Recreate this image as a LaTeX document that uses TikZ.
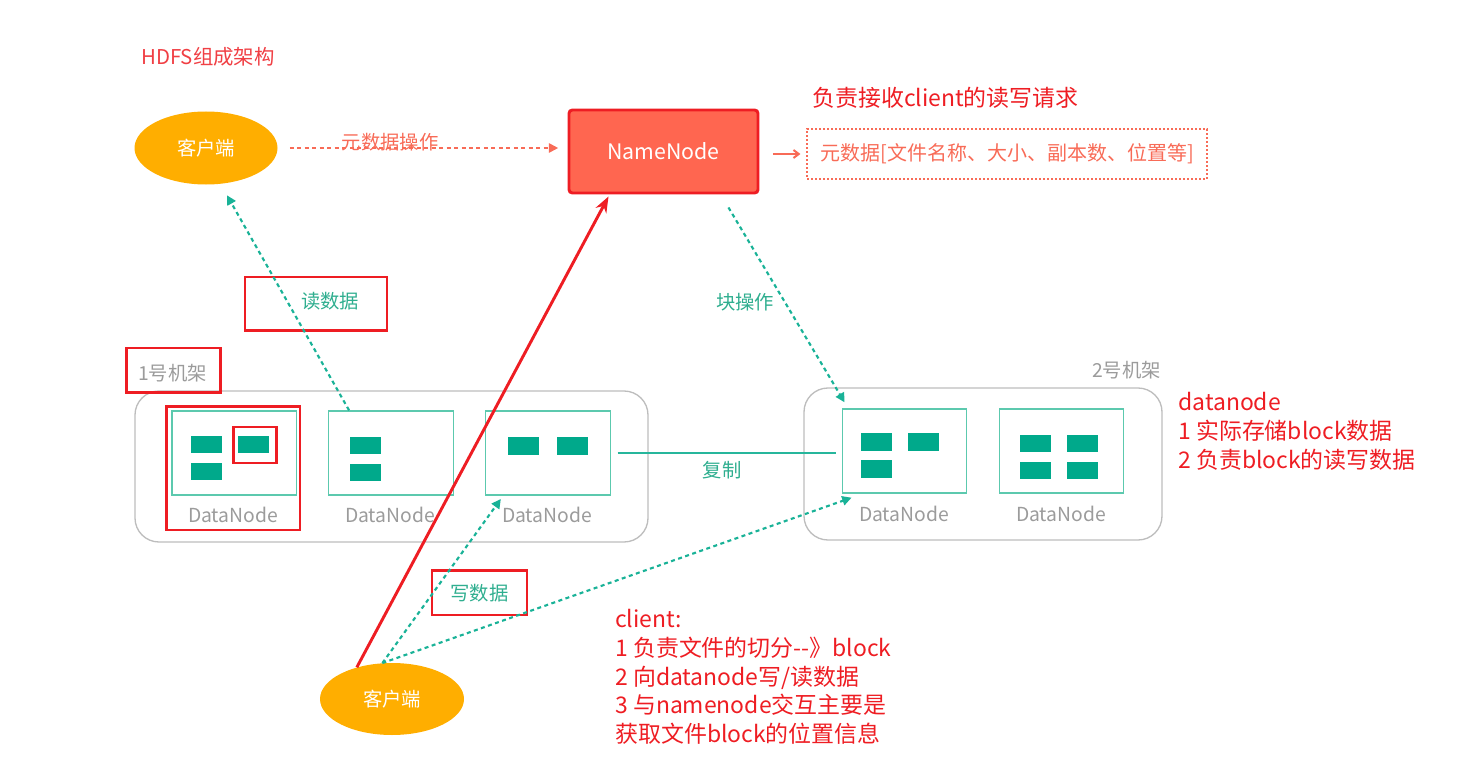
\documentclass[tikz,border=0pt]{standalone}
\usepackage{fontspec}
\setmainfont{Noto Sans CJK SC}
\usetikzlibrary{shapes.geometric,arrows.meta,calc}
\definecolor{cred}{HTML}{EE1D23}
\definecolor{csalmon}{HTML}{F86B57}
\definecolor{cnn}{HTML}{FF6650}
\definecolor{corange}{HTML}{FFAE00}
\definecolor{cgreen}{HTML}{00A98B}
\definecolor{cgreenl}{HTML}{5CC9AE}
\definecolor{cgtext}{HTML}{2FAE8F}
\definecolor{cgray}{HTML}{9B9B9B}
\definecolor{crack}{HTML}{BDBDBD}
\tikzset{
  client/.style={ellipse, fill=corange, minimum width=107.25pt, minimum height=54.75pt, inner sep=0pt, text=white, font=\fontsize{14.5}{16}\selectfont},
  nnbox/.style={rectangle, rounded corners=2.5pt, fill=cnn, draw=cred, line width=2.2pt, minimum width=141.75pt, minimum height=62.25pt, text=white, font=\fontsize{16}{18}\selectfont},
  metabox/.style={rectangle, draw=csalmon, line width=0.8pt, dash pattern=on 1.5pt off 1.5pt, minimum width=300pt, minimum height=37.5pt, text=csalmon, font=\fontsize{15}{17}\selectfont},
  rack/.style={rectangle, rounded corners=18pt, draw=crack, line width=1pt, inner sep=0pt},
  dnbox/.style={rectangle, draw=cgreenl, line width=1pt, minimum width=93.4pt, minimum height=63pt, inner sep=0pt},
  blk/.style={rectangle, fill=cgreen, minimum width=23.25pt, minimum height=13.1pt, inner sep=0pt},
  dnlabel/.style={text=cgray, font=\fontsize{14.5}{16}\selectfont, inner sep=0pt},
  hlbox/.style={rectangle, draw=cred, line width=2pt, inner sep=0pt},
  glabel/.style={text=cgtext, font=\fontsize{14.5}{16}\selectfont, inner sep=0pt},
  redtext/.style={text=cred, font=\fontsize{17.2}{21.9}\selectfont, align=left, inner sep=0pt},
  gdot/.style={draw=cgreen!90!white, line width=1.6pt, dash pattern=on 3pt off 2.6pt, -{Triangle[width=7pt,length=7pt]}},
}
\begin{document}
\begin{tikzpicture}[x=0.75pt,y=-0.75pt]
\useasboundingbox (0,0) rectangle (1468,767);
% title
\node[anchor=west, text=cred!85!white, font=\fontsize{15.3}{17}\selectfont, inner sep=0pt] (title) at (141,57) {HDFS组成架构};
% clients
\node[client] (ctop) at (206,148) {客户端};
\node[client, minimum width=108pt, minimum height=54pt] (cbot) at (392,699) {客户端};
% namenode
\node[nnbox] (nn) at (663.5,151.5) {NameNode};
\node[metabox] (meta) at (1007,154) {元数据[文件名称、大小、副本数、位置等]};
\node[redtext, anchor=west] (nnnote) at (812,98) {负责接收client的读写请求};
% racks
\node[rack, minimum width=384.75pt, minimum height=113.25pt] (rack1) at (391.5,466.5) {};
\node[rack, minimum width=268.5pt, minimum height=114pt] (rack2) at (983,464) {};
\node[dnlabel, anchor=center] (r1lab) at (172.5,373) {1号机架};
\node[hlbox, minimum width=70.5pt, minimum height=33.4pt] (r1box) at (173.5,370.25) {};
\node[dnlabel, anchor=east] (r2lab) at (1161,370) {2号机架};
% datanodes
\node[dnbox] (dn1) at (234.25,453) {};
\node[dnbox] (dn2) at (391,453) {};
\node[dnbox] (dn3) at (548,453) {};
\node[dnbox] (dn4) at (904.5,451) {};
\node[dnbox] (dn5) at (1061.5,451) {};
\node[dnlabel] (l1) at (233,515) {DataNode};
\node[dnlabel] (l2) at (390,515) {DataNode};
\node[dnlabel] (l3) at (547,515) {DataNode};
\node[dnlabel] (l4) at (904,514) {DataNode};
\node[dnlabel] (l5) at (1061,514) {DataNode};
% blocks
\node[blk] (b11) at (206.5,444.5) {};
\node[blk] (b12) at (253.5,444.5) {};
\node[blk] (b13) at (206.5,471.5) {};
\node[blk] (b21) at (365.5,445.5) {};
\node[blk] (b22) at (365.5,472.5) {};
\node[blk] (b31) at (523.5,446) {};
\node[blk] (b32) at (572.5,446) {};
\node[blk] (b41) at (876,442) {};
\node[blk] (b42) at (923,442) {};
\node[blk] (b43) at (876,469) {};
\node[blk] (b51) at (1035,443.5) {};
\node[blk] (b52) at (1082,443.5) {};
\node[blk] (b53) at (1035,470.5) {};
\node[blk] (b54) at (1082,470.5) {};
% highlight boxes
\node[hlbox, minimum width=100.1pt, minimum height=92.6pt] (hdn1) at (233.25,468.25) {};
\node[hlbox, minimum width=32.25pt, minimum height=27pt] (hb12) at (255,445) {};
\node[hlbox, minimum width=106.5pt, minimum height=40.1pt] (rdbox) at (316,303.75) {};
\node[glabel] (rdlab) at (330,300.7) {读数据};
\node[hlbox, minimum width=71.25pt, minimum height=33.3pt, glabel] (wrbox) at (479.5,592.75) {写数据};
% connectors
\draw[csalmon, line width=1.3pt, dash pattern=on 3pt off 2.6pt, -{Triangle[width=7pt,length=7pt]}, shorten <=9pt, shorten >=7pt] (ctop.east) -- (ctop.east -| nn.west);
\node[text=csalmon, font=\fontsize{14.5}{16}\selectfont, inner sep=0pt] (mlab) at (390,141.7) {元数据操作};
\draw[csalmon, line width=1.5pt, -{Straight Barb[width=6pt,length=4pt]}, shorten <=10pt, shorten >=4.5pt] (nn.east |- meta.west) -- (meta.west);
\draw[gdot] ([xshift=15.75pt]dn2.north west) -- ([xshift=15.75pt,yshift=-7.9pt]ctop.south);
\draw[cred, line width=2.2pt, -{Stealth[width=9pt,length=12pt]}] (cbot.138) -- ([xshift=30.75pt,yshift=-1.5pt]nn.south west);
\draw[gdot] ([xshift=-23.25pt,yshift=-9.75pt]nn.south east) -- ([xshift=2.25pt,yshift=4.5pt]dn4.north west);
\node[glabel] (blab) at (745,301.7) {块操作};
\draw[cgreen!85!white, line width=1.5pt, shorten <=5pt, shorten >=4.5pt] (dn3.east) -- (dn3.east -| dn4.west);
\node[glabel] (cplab) at (722,470) {复制};
\draw[gdot] (cbot.105) -- ([xshift=11.8pt,yshift=-2.5pt]dn3.south west);
\draw[gdot] (cbot.105) -- ([xshift=7.5pt,yshift=-3pt]dn4.south west);
% annotations
\node[redtext, anchor=west] (dnnote) at (1178,431.5) {datanode\\1 实际存储block数据\\2 负责block的读写数据};
\node[redtext, anchor=west, font=\fontsize{17.2}{21.45}\selectfont] (clnote) at (615,677) {client:\\1 负责文件的切分{-}{-}》block\\2 向datanode写/读数据\\3 与namenode交互主要是\\获取文件block的位置信息};
\end{tikzpicture}
\end{document}
